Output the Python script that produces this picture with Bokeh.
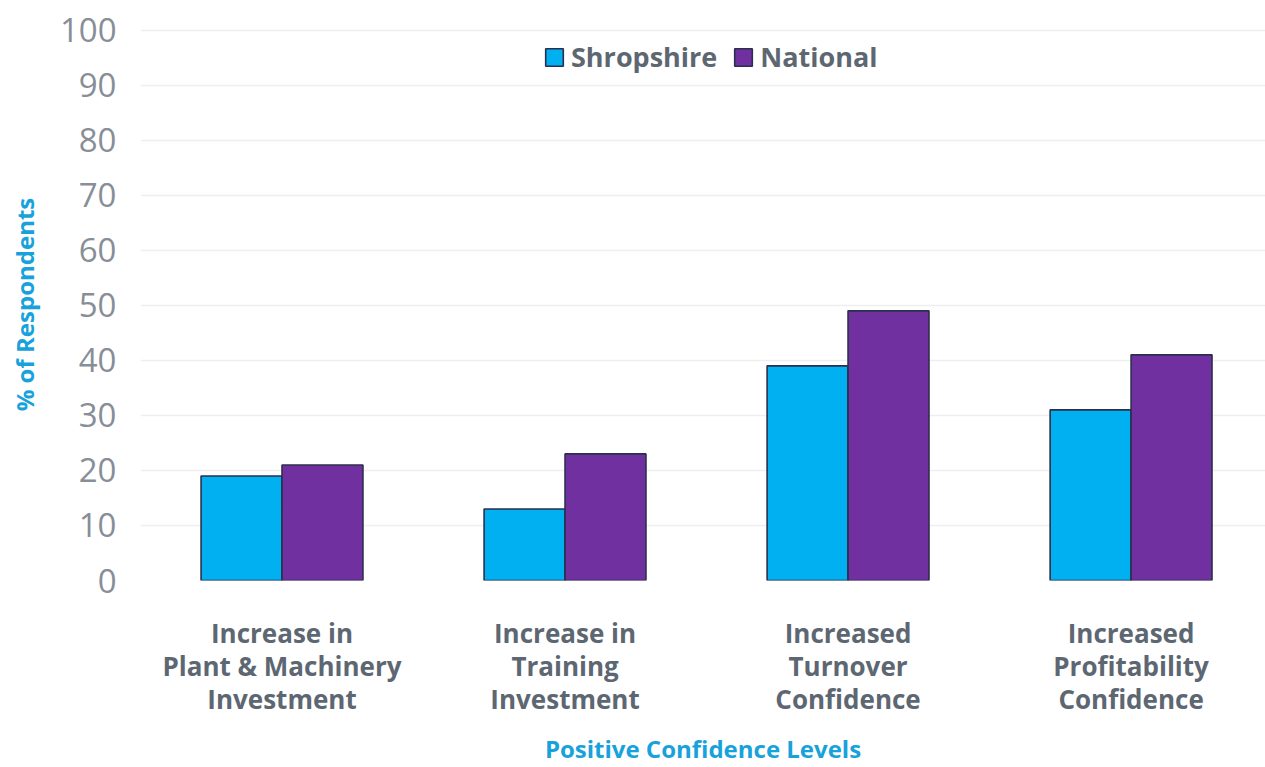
from bokeh.plotting import figure
from bokeh.models import Range1d, ColumnDataSource, Legend, LegendItem, FixedTicker
from bokeh.transform import dodge
from bokeh.embed import file_html
from bokeh.resources import INLINE

categories = ["Increase in\nPlant & Machinery\nInvestment",
              "Increase in\nTraining\nInvestment",
              "Increased\nTurnover\nConfidence",
              "Increased\nProfitability\nConfidence"]
shropshire = [19, 13, 39, 31]
national = [21, 23, 49, 41]
y_ticks = [0, 10, 20, 30, 40, 50, 60, 70, 80, 90, 100]

xpos = [i + 0.5 for i in range(len(categories))]
src = ColumnDataSource(dict(x=xpos, s=shropshire, n=national))

FONT = "Open Sans"
p = figure(width=1265, height=767, output_backend="svg", toolbar_location=None,
           x_range=Range1d(0, 3.975), y_range=Range1d(0, 100.3),
           min_border_left=140, min_border_right=0, min_border_top=28, min_border_bottom=187)
p.outline_line_color = None
p.background_fill_color = "white"
p.border_fill_color = "white"

bw = 0.286
r1 = p.vbar(x=dodge("x", -bw / 2, range=p.x_range), top="s", width=bw, source=src,
            fill_color="#00b0f0", line_color="#2b2f4c", line_width=1.6)
r2 = p.vbar(x=dodge("x", bw / 2, range=p.x_range), top="n", width=bw, source=src,
            fill_color="#7030a0", line_color="#2b2f4c", line_width=1.6)

# axes
p.xaxis.ticker = FixedTicker(ticks=xpos)
p.xaxis.major_label_overrides = {x: c for x, c in zip(xpos, categories)}
p.xaxis.major_label_text_font = FONT
p.xaxis.major_label_text_font_style = "bold"
p.xaxis.major_label_text_font_size = "26px"
p.xaxis.major_label_text_line_height = 0.92
p.xaxis.major_label_text_color = "#5d6772"
p.xaxis.major_label_standoff = 28
p.xaxis.axis_label = "Positive Confidence Levels"
p.xaxis.axis_label_text_font = FONT
p.xaxis.axis_label_text_font_style = "bold"
p.xaxis.axis_label_text_font_size = "24px"
p.xaxis.axis_label_text_color = "#17a2dc"
p.xaxis.axis_label_standoff = 12

p.yaxis.ticker = FixedTicker(ticks=y_ticks)
p.yaxis.major_label_text_font = FONT
p.yaxis.major_label_text_font_size = "33px"
p.yaxis.major_label_text_color = "#878e97"
p.yaxis.major_label_standoff = 18
p.yaxis.axis_label = "% of Respondents"
p.yaxis.axis_label_text_font = FONT
p.yaxis.axis_label_text_font_style = "bold"
p.yaxis.axis_label_text_font_size = "24px"
p.yaxis.axis_label_text_color = "#17a2dc"
p.yaxis.axis_label_standoff = 16

for ax in (p.xaxis[0], p.yaxis[0]):
    ax.axis_line_color = None
    ax.major_tick_line_color = None
    ax.minor_tick_line_color = None

p.xgrid.grid_line_color = None
p.ygrid.grid_line_color = "#efefef"
p.ygrid.grid_line_width = 1.5

legend = Legend(items=[LegendItem(label="Shropshire", renderers=[r1]),
                       LegendItem(label="National", renderers=[r2])],
                orientation="horizontal", location=(403, 505))
legend.label_text_font = FONT
legend.label_text_font_style = "bold"
legend.label_text_font_size = "27px"
legend.label_text_color = "#5d6772"
legend.glyph_width = 22
legend.glyph_height = 22
legend.label_standoff = 6
legend.spacing = 15
legend.padding = 0
legend.margin = 0
legend.border_line_alpha = 0
legend.background_fill_alpha = 0
p.add_layout(legend, "center")

open("out.html", "w").write(file_html(p, INLINE))
